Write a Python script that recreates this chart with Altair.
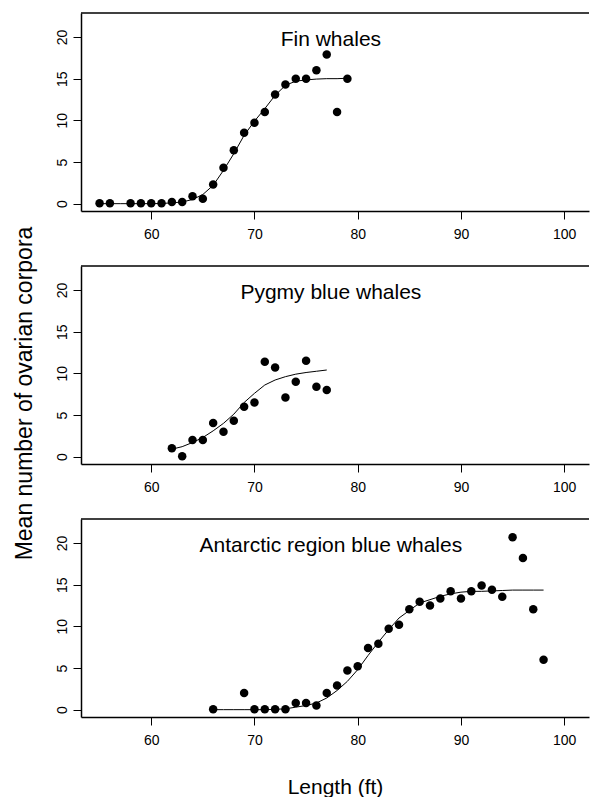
import altair as alt
import pandas as pd

# ---- data ----
panel_names = ["Fin whales", "Pygmy blue whales", "Antarctic region blue whales"]

fin_len = [55, 56, 58, 59, 60, 61, 62, 63, 64, 65, 66, 67, 68, 69, 70, 71, 72, 73, 74, 75, 76, 77, 78, 79]
fin_mean = [0.05, 0.05, 0.05, 0.05, 0.05, 0.05, 0.2, 0.2, 0.9, 0.6, 2.3, 4.3, 6.4, 8.5, 9.7, 11.0, 13.1, 14.3, 15.0, 15.0, 16.0, 17.9, 11.0, 15.0]
fin_fit_len = [55, 56, 57, 58, 59, 60, 61, 62, 63, 64, 65, 66, 67, 68, 69, 70, 71, 72, 73, 74, 75, 76, 77, 78, 79]
fin_fit = [0.0, 0.0, 0.0, 0.0, 0.0, 0.0, 0.02, 0.1, 0.2, 0.5, 1.1, 2.2, 4.0, 6.0, 8.2, 9.9, 11.4, 13.0, 14.2, 14.7, 14.85, 14.95, 15.0, 15.0, 15.05]

pygmy_len = [62, 63, 64, 65, 66, 67, 68, 69, 70, 71, 72, 73, 74, 75, 76, 77]
pygmy_mean = [1.0, 0.05, 2.0, 2.0, 4.05, 3.0, 4.3, 6.0, 6.5, 11.4, 10.7, 7.1, 9.0, 11.5, 8.4, 8.0]
pygmy_fit_len = [62, 63, 64, 65, 66, 67, 68, 69, 70, 71, 72, 73, 74, 75, 76, 77]
pygmy_fit = [0.9, 1.2, 1.7, 2.3, 3.1, 4.0, 5.1, 6.5, 7.6, 8.6, 9.2, 9.6, 9.9, 10.1, 10.25, 10.4]

ant_len = [66, 69, 70, 71, 72, 73, 74, 75, 76, 77, 78, 79, 80, 81, 82, 83, 84, 85, 86, 87,
           88, 89, 90, 91, 92, 93, 94, 95, 96, 97, 98]
ant_mean = [0.05, 2.0, 0.05, 0.05, 0.05, 0.05, 0.8, 0.8, 0.5, 2.0, 2.9, 4.7, 5.2, 7.4, 7.9, 9.7,
            10.2, 12.05, 12.95, 12.5, 13.35, 14.2, 13.35, 14.2, 14.9, 14.4, 13.55, 20.7, 18.2, 12.05, 6.0]
ant_fit_len = [66, 67, 68, 69, 70, 71, 72, 73, 74, 75, 76, 77, 78, 79, 80, 81, 82, 83, 84, 85,
               86, 87, 88, 89, 90, 91, 92, 93, 94, 95, 96, 97, 98]
ant_fit = [0.0, 0.0, 0.0, 0.0, 0.0, 0.0, 0.05, 0.1, 0.3, 0.5, 0.8, 1.4, 2.3, 3.4, 4.8, 6.5, 8.1,
           9.6, 11.0, 11.9, 12.8, 13.2, 13.6, 13.9, 14.1, 14.2, 14.2, 14.25, 14.3, 14.35, 14.35, 14.35, 14.35]

x_ticks = [60, 70, 80, 90, 100]
y_ticks = [0, 5, 10, 15, 20]

FONT = "Liberation Sans"
W = 508
H = 198


def panel(name, lens, means, fit_lens, fits, x_title=None, y_title=None):
    pts = pd.DataFrame({"len": lens, "mean": means})
    fit = pd.DataFrame({"len": fit_lens, "fit": fits})
    xscale = alt.Scale(domain=[53.2, 102.4], nice=False, zero=False)
    yscale = alt.Scale(domain=[-0.88, 22.88], nice=False, zero=False)
    xaxis = alt.Axis(values=x_ticks, title=x_title, tickSize=8, labelPadding=8,
                     titlePadding=29, domainWidth=1.5)
    yaxis = alt.Axis(values=y_ticks, title=y_title, tickSize=8, labelAngle=270,
                     labelAlign="center", labelBaseline="bottom", labelPadding=4,
                     titlePadding=19, titleFontSize=23, titleY=127, titleAlign="center",
                     domainWidth=1.5)

    line = alt.Chart(fit).mark_line(color="black", strokeWidth=1).encode(
        x=alt.X("len:Q", scale=xscale, axis=xaxis),
        y=alt.Y("fit:Q", scale=yscale, axis=yaxis),
    )
    dots = alt.Chart(pts).mark_circle(size=72, color="black", opacity=1).encode(
        x=alt.X("len:Q", scale=xscale, axis=xaxis),
        y=alt.Y("mean:Q", scale=yscale, axis=yaxis),
    )
    label = alt.Chart(pd.DataFrame({"label": [name]})).mark_text(
        font=FONT, fontSize=21, color="black", align="center", baseline="middle"
    ).encode(
        x=alt.datum(77.4),
        y=alt.datum(19.7),
        text="label:N",
    )
    top = alt.Chart(pd.DataFrame({"a": [0]})).mark_rule(color="black", strokeWidth=1.5).encode(
        x=alt.value(0), x2=alt.value(W), y=alt.value(0)
    )
    return alt.layer(line, dots, label, top).properties(width=W, height=H)


p1 = panel(panel_names[0], fin_len, fin_mean, fin_fit_len, fin_fit)
p2 = panel(panel_names[1], pygmy_len, pygmy_mean, pygmy_fit_len, pygmy_fit,
           y_title="Mean number of ovarian corpora")
p3 = panel(panel_names[2], ant_len, ant_mean, ant_fit_len, ant_fit, x_title="Length (ft)")

chart = alt.vconcat(p1, p2, p3, spacing=55, bounds="flush").properties(
    padding={"left": 12, "top": 12, "right": 0, "bottom": 0},
    background="white",
).configure_view(stroke=None).configure_axis(
    grid=False,
    labelFont=FONT, labelFontSize=14, labelColor="black",
    titleFont=FONT, titleFontSize=21, titleFontWeight="normal", titleColor="black",
    tickColor="black", domainColor="black", tickWidth=1,
)

chart.save("out.html", embed_options={"renderer": "svg", "actions": False})
